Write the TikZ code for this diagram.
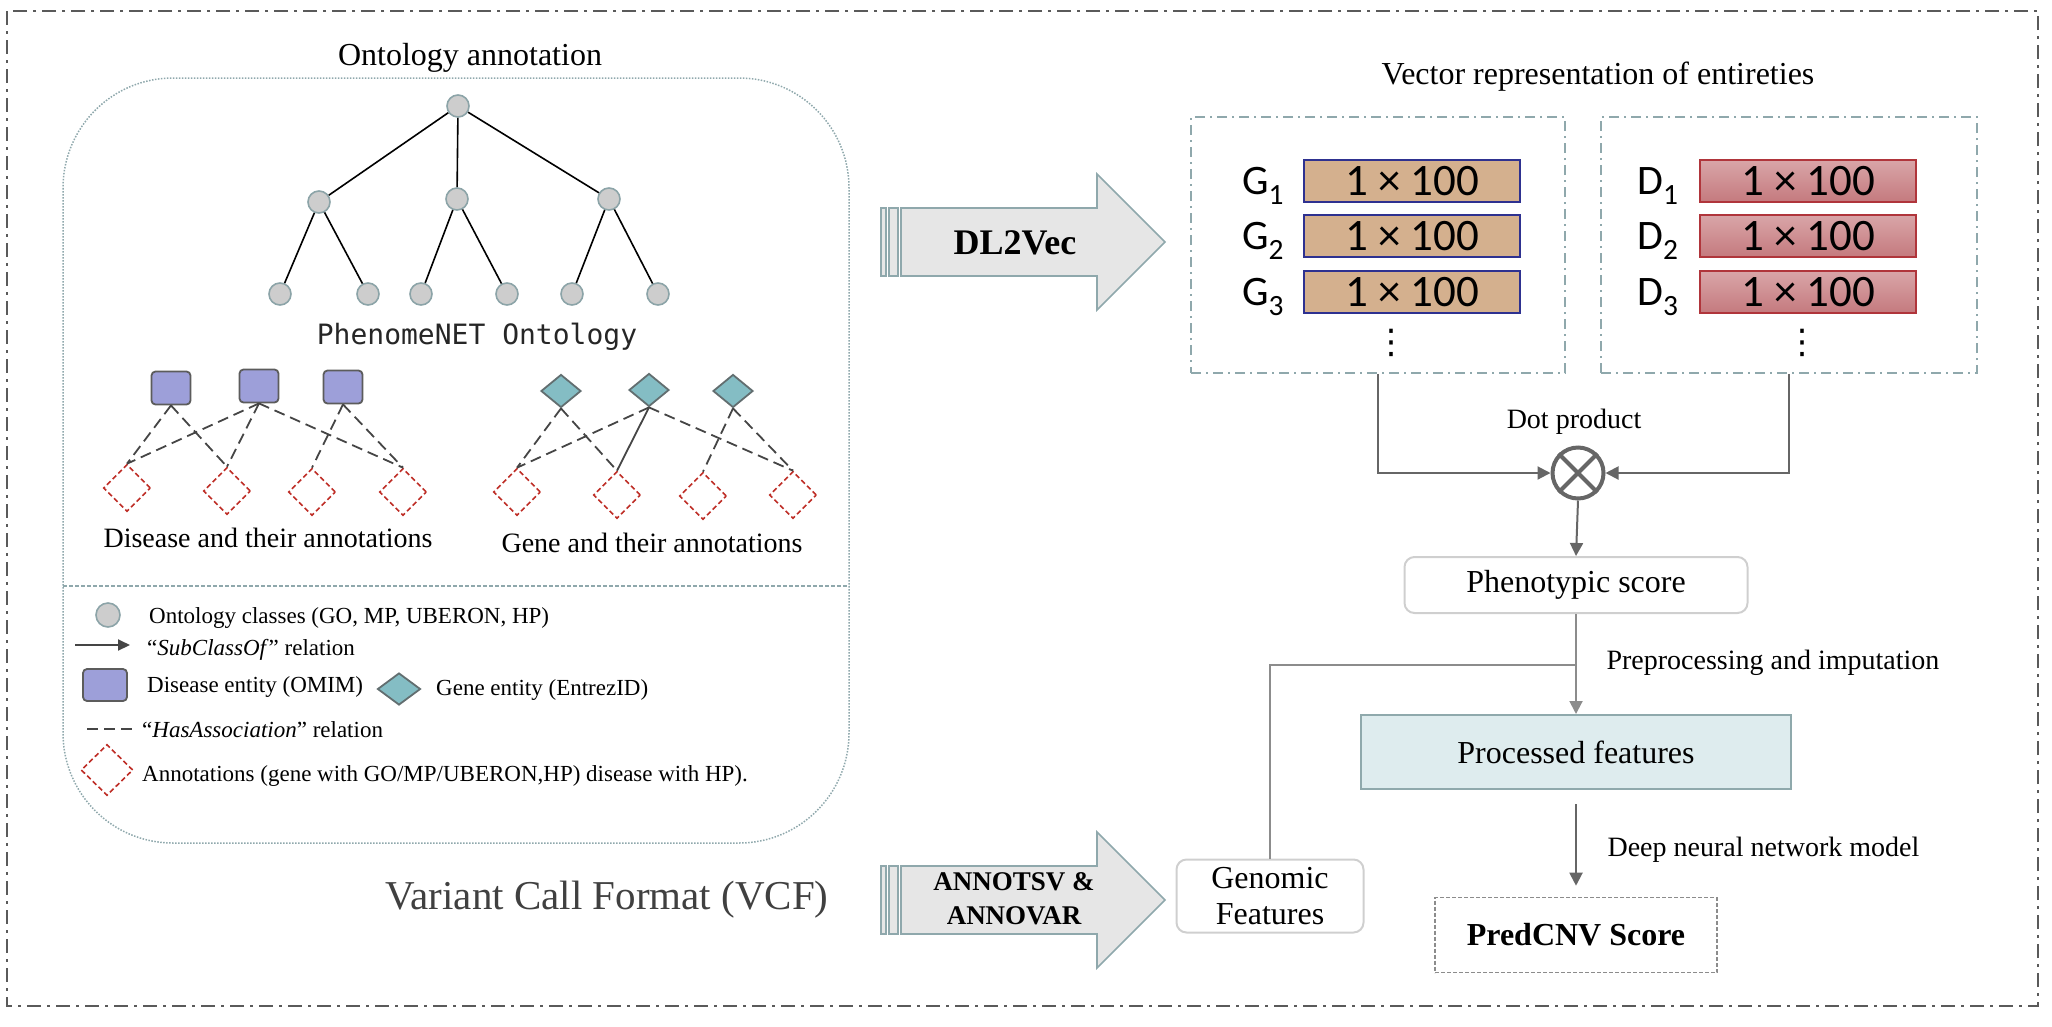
\documentclass[tikz, border = 0pt]{standalone}
\usepackage{fontspec}
\setmainfont{Liberation Serif}
\newfontfamily\vecfont{Carlito}
\newfontfamily\ontomono{DejaVu Sans Mono}
\newfontfamily\dotsfont{DejaVu Sans}
\usetikzlibrary{arrows.meta, shapes.geometric}

\definecolor{ontofill}{HTML}{CDCDCD}
\definecolor{ontoline}{HTML}{8CA4A8}
\definecolor{disfill}{HTML}{9D9FD9}
\definecolor{disline}{HTML}{5C5C5C}
\definecolor{genefill}{HTML}{84BDC4}
\definecolor{geneline}{HTML}{626E70}
\definecolor{annred}{HTML}{BE2D26}
\definecolor{assocgray}{HTML}{454545}
\definecolor{framegray}{HTML}{8FA8AC}
\definecolor{bordergray}{HTML}{5A5A5A}
\definecolor{arrowfill}{HTML}{E6E6E6}
\definecolor{gfill}{HTML}{D4B08E}
\definecolor{gline}{HTML}{2E3190}
\definecolor{dtop}{HTML}{D9A5A8}
\definecolor{dbottom}{HTML}{C47A7E}
\definecolor{dline}{HTML}{B0353B}
\definecolor{flowgray}{HTML}{666666}
\definecolor{flowlight}{HTML}{8C8C8C}
\definecolor{boxline}{HTML}{CFCFCF}
\definecolor{procfill}{HTML}{DEECEE}
\definecolor{procline}{HTML}{8FA9AC}
\definecolor{vcfgray}{HTML}{404040}

\begin{document}
\begin{tikzpicture}[x = 1pt, y = -1pt,
        fbig/.style = {font = \fontsize{32}{38}\selectfont},
        fmid/.style = {font = \fontsize{28}{33}\selectfont},
        fleg/.style = {font = \fontsize{23}{27}\selectfont, anchor = west, inner sep = 0pt},
        ontoclass/.style = {circle, draw = ontoline, fill = ontofill, line width = 1.6pt, minimum size = 22pt, inner sep = 0pt},
        disease/.style = {rectangle, rounded corners = 4pt, draw = disline, fill = disfill, line width = 1.8pt, minimum width = 39pt, minimum height = 33pt, inner sep = 0pt},
        gene/.style = {diamond, draw = geneline, fill = genefill, line width = 1.8pt, minimum width = 40pt, minimum height = 33pt, inner sep = 0pt},
        annot/.style = {diamond, draw = annred, dash pattern = on 5pt off 3pt, line width = 1.6pt, minimum width = 47pt, minimum height = 47pt, inner sep = 0pt},
        subclass/.style = {black, line width = 1.6pt},
        assoc/.style = {assocgray, line width = 1.8pt, dash pattern = on 11pt off 6pt},
        bigarrow/.style = {draw = framegray, fill = arrowfill, line width = 1.6pt},
        vecbox/.style = {draw = framegray, line width = 1.5pt, dash pattern = on 10pt off 5pt on 2pt off 5pt, minimum width = 374pt, minimum height = 256pt},
        gvec/.style = {draw = gline, fill = gfill, line width = 2pt, minimum width = 216pt, minimum height = 42pt, inner sep = 0pt, font = \vecfont\fontsize{45}{45}\selectfont},
        dvec/.style = {draw = dline, top color = dtop, bottom color = dbottom, line width = 2pt, minimum width = 216pt, minimum height = 42pt, inner sep = 0pt, font = \vecfont\fontsize{45}{45}\selectfont},
        veclab/.style = {font = \vecfont\fontsize{42}{42}\selectfont, inner sep = 0pt, anchor = base},
        vdotsnode/.style = {font = \dotsfont\fontsize{34}{34}\selectfont, inner sep = 0pt},
        flow/.style = {flowgray, line width = 2pt},
        flowtip/.style = {-{Triangle[length = 13pt, width = 13pt]}},
        softbox/.style = {draw = boxline, line width = 2pt, rounded corners = 10pt, fbig}
    ]
                        \useasboundingbox (0, 0) rectangle (2052, 1026);
                        \draw [bordergray, line width = 2pt, dash pattern = on 14pt off 6pt on 3pt off 6pt] (7, 11) rectangle (2038, 1006);

                        \node [fbig] (ontotitle) at (470, 58) {Ontology annotation};
                        \draw [framegray, line width = 1.5pt, dash pattern = on 1.5pt off 1.5pt, rounded corners = 110pt] (63, 78) rectangle (849, 843);
                        \draw [framegray, line width = 1.5pt, dash pattern = on 4pt off 2pt] (63, 586) -- (849, 586);

                        \node [ontoclass] (root) at (458, 106) {};
                        \node [ontoclass] (midl) at (319, 202) {};
                        \node [ontoclass] (midc) at (457, 199) {};
                        \node [ontoclass] (midr) at (609, 199) {};
                        \node [ontoclass] (leafa) at (280, 294) {};
                        \node [ontoclass] (leafb) at (368, 294) {};
                        \node [ontoclass] (leafc) at (421, 294) {};
                        \node [ontoclass] (leafd) at (507, 294) {};
                        \node [ontoclass] (leafe) at (572, 294) {};
                        \node [ontoclass] (leaff) at (658, 294) {};
                        \draw [subclass] (root) -- (midl);
                        \draw [subclass] (root) -- (midc);
                        \draw [subclass] (root) -- (midr);
                        \draw [subclass] (midl) -- (leafa);
                        \draw [subclass] (midl) -- (leafb);
                        \draw [subclass] (midc) -- (leafc);
                        \draw [subclass] (midc) -- (leafd);
                        \draw [subclass] (midr) -- (leafe);
                        \draw [subclass] (midr) -- (leaff);
                        \node [font = \ontomono\fontsize{28}{33}\selectfont, text = black!85] (phenonet) at (477, 337) {PhenomeNET Ontology};

                        \node [disease] (disa) at (171, 388) {};
                        \node [disease] (disb) at (259, 386) {};
                        \node [disease] (disc) at (343, 387) {};
                        \node [annot] (dannA) at (127, 488) {};
                        \node [annot] (dannB) at (227, 491) {};
                        \node [annot] (dannC) at (312, 492) {};
                        \node [annot] (dannD) at (403, 492) {};
                        \draw [assoc] (disa.south) -- (dannA.north);
                        \draw [assoc] (disa.south) -- (dannB.north);
                        \draw [assoc] (disb.south) -- (dannA.north);
                        \draw [assoc] (disb.south) -- (dannB.north);
                        \draw [assoc] (disb.south) -- (dannD.north);
                        \draw [assoc] (disc.south) -- (dannC.north);
                        \draw [assoc] (disc.south) -- (dannD.north);
                        \node [fmid] (dislab) at (268, 538) {Disease and their annotations};

                        \node [gene] (genea) at (561, 391) {};
                        \node [gene] (geneb) at (649, 390) {};
                        \node [gene] (genec) at (733, 391) {};
                        \node [annot] (gannA) at (517, 492) {};
                        \node [annot] (gannB) at (617, 495) {};
                        \node [annot] (gannC) at (703, 496) {};
                        \node [annot] (gannD) at (793, 495) {};
                        \draw [assoc] (genea.south) -- (gannA.north);
                        \draw [assoc] (genea.south) -- (gannB.north);
                        \draw [assoc] (geneb.south) -- (gannA.north);
                        \draw [assocgray, line width = 1.8pt] (geneb.south) -- (gannB.north);
                        \draw [assoc] (geneb.south) -- (gannD.north);
                        \draw [assoc] (genec.south) -- (gannC.north);
                        \draw [assoc] (genec.south) -- (gannD.north);
                        \node [fmid] (genelab) at (652, 543) {Gene and their annotations};

                        \node [ontoclass, minimum size = 24pt] (legclass) at (108, 615) {};
                        \node [fleg] (legclasstxt) at (149, 618) {Ontology classes (GO, MP, UBERON, HP)};
                        \coordinate (legsuba) at (75, 645);
                        \coordinate (legsubb) at (130, 645);
                        \draw [assocgray, line width = 2pt, -{Triangle[length = 12pt, width = 11pt]}] (legsuba) -- (legsubb);
                        \node [fleg] (legsubtxt) at (147, 650) {“\textit{SubClassOf}” relation};
                        \node [disease, minimum width = 44pt, minimum height = 32pt] (legdis) at (105, 685) {};
                        \node [fleg] (legdistxt) at (147, 687) {Disease entity (OMIM)};
                        \node [gene, minimum width = 43pt, minimum height = 32pt] (leggene) at (399, 689) {};
                        \node [fleg] (leggenetxt) at (436, 690) {Gene entity (EntrezID)};
                        \coordinate (legassa) at (87, 729);
                        \coordinate (legassb) at (135, 729);
                        \draw [assoc] (legassa) -- (legassb);
                        \node [fleg] (legasstxt) at (142, 730) {“\textit{HasAssociation}” relation};
                        \node [annot, minimum width = 52pt, minimum height = 51pt] (legannot) at (107, 770) {};
                        \node [fleg] (legannottxt) at (142, 776) {Annotations (gene with GO/MP/UBERON,HP) disease with HP).};

                        \node [font = \fontsize{41}{48}\selectfont, text = vcfgray] (vcf) at (607, 900) {Variant Call Format (VCF)};

                        \draw [bigarrow] (901, 208) -- (1097, 208) -- (1097, 174) -- (1165, 242) -- (1097, 310) -- (1097, 276) -- (901, 276) -- cycle;
                        \draw [bigarrow] (881, 208) rectangle (886, 276);
                        \draw [bigarrow] (889, 208) rectangle (898, 276);
                        \node [font = \bfseries\fontsize{36}{40}\selectfont] (dlvec) at (1015, 243) {DL2Vec};
                        \draw [bigarrow] (901, 866) -- (1097, 866) -- (1097, 832) -- (1165, 900) -- (1097, 968) -- (1097, 934) -- (901, 934) -- cycle;
                        \draw [bigarrow] (881, 866) rectangle (886, 934);
                        \draw [bigarrow] (889, 866) rectangle (898, 934);
                        \node [font = \bfseries\fontsize{27}{34}\selectfont, align = center] (annot) at (1014, 899) {ANNOTSV \&\\ANNOVAR};

                        \node [fbig] (vectitle) at (1598, 77) {Vector representation of entireties};
                        \node [vecbox] (gbox) at (1378, 245) {};
                        \node [vecbox, minimum width = 376pt] (dbox) at (1789, 245) {};
                        \node [gvec] (gvecA) at (1412, 181) {1 × 100};
                        \node [gvec] (gvecB) at (1412, 236) {1 × 100};
                        \node [gvec] (gvecC) at (1412, 292) {1 × 100};
                        \node [veclab] (glabA) at (1263, 194) {G\textsubscript{1}};
                        \node [veclab] (glabB) at (1263, 249) {G\textsubscript{2}};
                        \node [veclab] (glabC) at (1263, 305) {G\textsubscript{3}};
                        \node [vdotsnode] (gdots) at (1391, 343) {⋮};
                        \node [dvec] (dvecA) at (1808, 181) {1 × 100};
                        \node [dvec] (dvecB) at (1808, 236) {1 × 100};
                        \node [dvec] (dvecC) at (1808, 292) {1 × 100};
                        \node [veclab] (dlabA) at (1658, 194) {D\textsubscript{1}};
                        \node [veclab] (dlabB) at (1658, 249) {D\textsubscript{2}};
                        \node [veclab] (dlabC) at (1658, 305) {D\textsubscript{3}};
                        \node [vdotsnode] (ddots) at (1802, 343) {⋮};

                        \node [fmid] (dotlab) at (1574, 422) {Dot product};
                        \node [circle, draw = flowgray, line width = 4pt, minimum size = 51pt, inner sep = 0pt] (dot) at (1578, 473) {};
                        \draw [flowgray, line width = 4pt] (dot.north west) -- (dot.south east) (dot.north east) -- (dot.south west);
                        \draw [flow, flowtip] (gbox.south) |- (dot.west);
                        \draw [flow, flowtip] (dbox.south) |- (dot.east);

                        \node [softbox, minimum width = 343pt, minimum height = 56pt] (pheno) at (1576, 585) {Phenotypic score};
                        \node [draw = procline, fill = procfill, line width = 2pt, minimum width = 430pt, minimum height = 74pt, fbig] (proc) at (1576, 752) {Processed features};
                        \node [draw = flowlight, line width = 1.6pt, dash pattern = on 4pt off 2pt, minimum width = 282pt, minimum height = 75pt, font = \bfseries\fontsize{32}{38}\selectfont] (pred) at (1576, 935) {PredCNV Score};
                        \node [softbox, minimum width = 187pt, minimum height = 73pt, align = center, font = \fontsize{32}{36}\selectfont] (genomic) at (1270, 896) {Genomic\\Features};
                        \coordinate (merge) at (1576, 665);

                        \draw [flow, flowtip] (dot.south) -- (pheno.north);
                        \draw [flow, flowlight, flowtip] (pheno.south) -- (proc.north);
                        \draw [flow, flowlight] (genomic.north) |- (merge);
                        \draw [flow, flowtip, shorten <= 14pt, shorten >= 11pt] (proc.south) -- (pred.north);
                        \node [fmid, anchor = west] (preplab) at (1603, 663) {Preprocessing and imputation};
                        \node [fmid, anchor = west] (dnnlab) at (1604, 850) {Deep neural network model};
                    \end{tikzpicture}
\end{document}
